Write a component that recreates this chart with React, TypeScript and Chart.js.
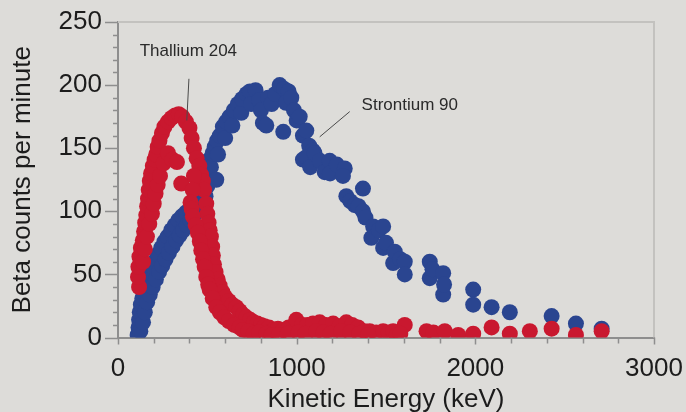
import React, { useEffect, useRef } from 'react';
import { Chart, registerables } from 'chart.js';

Chart.register(...registerables);

// ---- data (keV, beta counts per minute) ----
const thalliumPoints: [number, number][] = [
  [118, 40], [112, 48], [114, 56], [120, 64], [128, 71], [139, 77], [146, 84], [152, 91], [158, 97],
  [163, 104], [168, 110], [172, 117], [178, 124], [185, 130], [195, 136], [205, 141], [214, 145],
  [222, 151], [232, 156], [246, 162], [260, 167], [280, 171], [300, 174], [320, 176], [340, 177],
  [360, 175], [380, 171], [400, 166], [412, 158], [425, 150], [440, 142], [455, 136], [465, 129],
  [475, 124], [482, 117], [494, 106], [500, 98], [507, 91], [513, 85], [520, 80], [527, 72],
  [531, 65], [537, 58], [546, 52], [558, 46], [569, 41], [585, 36], [600, 32], [620, 29], [640, 26],
  [662, 24], [681, 21], [700, 18], [718, 16], [740, 14], [760, 12], [780, 11], [800, 10], [820, 9],
  [845, 8], [870, 6], [895, 7], [925, 6], [955, 8], [998, 14], [1030, 10], [1060, 10], [1091, 11],
  [1129, 12], [1165, 10], [1204, 11], [1240, 9], [1278, 12], [1310, 10], [1344, 8], [1380, 5],
  [1409, 5], [1445, 4], [1484, 5], [1515, 4], [1540, 5], [1605, 10], [1727, 5], [1765, 4],
  [1829, 5], [1904, 2], [1988, 3], [2091, 8], [2193, 3], [2305, 5], [2427, 7], [2563, 2], [2707, 5],
  [140, 60], [150, 70], [162, 80], [175, 90], [190, 98], [200, 106], [210, 114], [222, 121],
  [235, 128], [255, 138], [280, 146], [305, 141], [330, 139], [354, 122], [425, 128], [418, 117],
  [406, 107], [412, 102], [419, 96], [435, 89], [447, 83], [458, 76], [466, 69],
  [476, 62], [485, 56], [494, 48], [505, 42], [513, 38], [530, 31], [550, 24], [570, 20], [595, 16],
  [620, 13], [650, 10], [680, 8], [699, 6], [730, 5], [760, 3], [790, 4], [830, 3], [860, 2],
  [900, 2], [950, 3], [1010, 4], [1050, 3], [1110, 5], [1150, 4], [1190, 3], [1250, 5], [1300, 4],
  [1350, 3], [1400, 2], [1560, 2], [1580, 3],
];

const strontiumPoints: [number, number][] = [
  [110, 2], [115, 8], [118, 14], [122, 20], [128, 26], [136, 31], [125, 5], [140, 12], [150, 20],
  [146, 36], [158, 41], [170, 46], [182, 51], [163, 28], [178, 34], [194, 40], [195, 56], [210, 61],
  [225, 66], [212, 46], [230, 52], [248, 57], [242, 71], [260, 76], [278, 80], [266, 62], [285, 67],
  [305, 72], [298, 85], [318, 89], [338, 93], [325, 77], [345, 81], [365, 85], [358, 96], [380, 99],
  [402, 101], [385, 89], [405, 93], [425, 97], [428, 104], [450, 107], [445, 100], [470, 109],
  [490, 112], [500, 120], [510, 128], [503, 140], [520, 135], [530, 146], [541, 151], [550, 125],
  [555, 156], [570, 160], [560, 145], [587, 167], [600, 158], [606, 171], [625, 175], [640, 168],
  [648, 180], [671, 185], [690, 178], [695, 189], [720, 193], [738, 195], [745, 185], [770, 196],
  [790, 188], [800, 180], [811, 170], [830, 168], [840, 190], [860, 185], [880, 193], [905, 200],
  [930, 197], [955, 195], [940, 186], [925, 163], [970, 190], [985, 180], [1000, 172], [1017, 175],
  [1035, 160], [1054, 164], [1070, 152], [1091, 148], [1035, 141], [1054, 143], [1100, 146],
  [1076, 135], [1130, 140], [1157, 131], [1185, 140], [1187, 130], [1225, 137], [1269, 134],
  [1259, 128], [1278, 112], [1300, 108], [1325, 105], [1346, 104], [1371, 118], [1371, 100],
  [1385, 95], [1418, 79], [1428, 88], [1460, 85], [1484, 88], [1484, 71], [1500, 75], [1540, 59],
  [1549, 68], [1580, 62], [1605, 60], [1605, 50], [1745, 60], [1745, 47], [1760, 54], [1820, 51],
  [1820, 34], [1825, 42], [1988, 38], [1988, 26], [2091, 24], [2193, 20], [2427, 17], [2563, 11],
  [2707, 7],
];

const seriesNames = ['Thallium 204', 'Strontium 90'];
const xMajorTicks = [0, 1000, 2000, 3000];
const yMajorTicks = [0, 50, 100, 150, 200, 250];

// annotation labels anchored in data space (keV, counts)
const noteTexts = ['Thallium 204', 'Strontium 90'];
const noteAnchors: [number, number][] = [[394, 227], [1633, 184]];
const leaderStarts: [number, number][] = [[397, 205], [1297, 179]];
const leaderEnds: [number, number][] = [[385, 172], [1129, 159]];

const FONT = '"Liberation Sans", Arial, Helvetica, sans-serif';
const RED = '#c9182f';
const BLUE = '#2a4590';
const AXIS = '#8e8e8e';

export default function App() {
  const ref = useRef<HTMLCanvasElement>(null);

  useEffect(() => {
    const canvas = ref.current;
    if (!canvas) return;

    const decor = {
      id: 'decor',
      beforeDatasetsDraw(chart: any) {
        const { ctx, chartArea: a } = chart;
        ctx.save();
        ctx.strokeStyle = '#c3c2bf';
        ctx.lineWidth = 2;
        ctx.beginPath();
        ctx.moveTo(a.left, a.top);
        ctx.lineTo(a.right, a.top);
        ctx.lineTo(a.right, a.bottom);
        ctx.stroke();
        ctx.restore();
      },
      afterDraw(chart: any) {
        const { ctx, chartArea: a } = chart;
        const xs = chart.scales.x;
        const ys = chart.scales.y;
        ctx.save();
        ctx.strokeStyle = AXIS;
        ctx.lineWidth = 1.5;
        ys.ticks.forEach((t: any) => {
          const major = yMajorTicks.includes(t.value);
          const len = major ? 13 : 5;
          const py = Math.round(ys.getPixelForValue(t.value)) + 0.5;
          ctx.beginPath();
          ctx.moveTo(a.left - len, py);
          ctx.lineTo(a.left, py);
          ctx.stroke();
        });
        xs.ticks.forEach((t: any) => {
          const major = xMajorTicks.includes(t.value);
          const len = major ? 7 : 6;
          const px = Math.round(xs.getPixelForValue(t.value)) + 0.5;
          ctx.beginPath();
          ctx.moveTo(px, a.bottom);
          ctx.lineTo(px, a.bottom + len);
          ctx.stroke();
        });
        ctx.restore();
      },
      afterDatasetsDraw(chart: any) {
        const { ctx } = chart;
        const xs = chart.scales.x;
        const ys = chart.scales.y;
        ctx.save();
        ctx.strokeStyle = '#4a4a4a';
        ctx.lineWidth = 1;
        leaderStarts.forEach((s, i) => {
          const e = leaderEnds[i];
          ctx.beginPath();
          ctx.moveTo(xs.getPixelForValue(s[0]), ys.getPixelForValue(s[1]));
          ctx.lineTo(xs.getPixelForValue(e[0]), ys.getPixelForValue(e[1]));
          ctx.stroke();
        });
        ctx.fillStyle = '#2a2a2a';
        ctx.font = `17px ${FONT}`;
        ctx.textAlign = 'center';
        ctx.textBaseline = 'middle';
        noteTexts.forEach((txt, i) => {
          const p = noteAnchors[i];
          ctx.fillText(txt, xs.getPixelForValue(p[0]), ys.getPixelForValue(p[1]));
        });
        ctx.restore();
      },
    };

    const chart = new Chart(canvas, {
      type: 'scatter',
      data: {
        datasets: [
          {
            label: seriesNames[0],
            data: thalliumPoints.map(([x, y]) => ({ x, y })),
            backgroundColor: RED,
            borderWidth: 0,
            pointRadius: 8,
            clip: 0,
          },
          {
            label: seriesNames[1],
            data: strontiumPoints.map(([x, y]) => ({ x, y })),
            backgroundColor: BLUE,
            borderWidth: 0,
            pointRadius: 8,
            clip: 0,
          },
        ],
      },
      options: {
        animation: false,
        responsive: false,
        devicePixelRatio: 1,
        events: [],
        layout: { padding: { left: 0, top: 22, right: 32, bottom: 0 } },
        plugins: {
          legend: { display: false },
          tooltip: { enabled: false },
        },
        scales: {
          x: {
            type: 'linear',
            min: 0,
            max: 3000,
            afterFit: (s: any) => { s.height = 74.5; },
            ticks: {
              stepSize: 200,
              autoSkip: false,
              maxRotation: 0,
              padding: 2,
              color: '#1c1c1c',
              font: { family: FONT, size: 26 },
              callback: (v: any) => (xMajorTicks.includes(Number(v)) ? String(v) : ''),
            },
            grid: { drawOnChartArea: false, drawTicks: true, tickLength: 14, tickColor: 'rgba(0,0,0,0)' },
            border: { display: true, color: AXIS, width: 2 },
            title: {
              display: true,
              text: 'Kinetic Energy (keV)',
              color: '#1c1c1c',
              font: { family: FONT, size: 26 },
              padding: { top: 0, bottom: -3 },
            },
          },
          y: {
            type: 'linear',
            min: 0,
            max: 250,
            afterFit: (s: any) => { s.width = 118; },
            ticks: {
              stepSize: 10,
              autoSkip: false,
              padding: 2,
              color: '#1c1c1c',
              font: { family: FONT, size: 26 },
              callback: (v: any) => (yMajorTicks.includes(Number(v)) ? String(v) : ''),
            },
            grid: { drawOnChartArea: false, drawTicks: true, tickLength: 14, tickColor: 'rgba(0,0,0,0)' },
            border: { display: true, color: AXIS, width: 2 },
            title: {
              display: true,
              text: 'Beta counts per minute',
              color: '#1c1c1c',
              font: { family: FONT, size: 26 },
              padding: { top: 7, bottom: 0 },
            },
          },
        },
      },
      plugins: [decor],
    } as any);

    return () => chart.destroy();
  }, []);

  return (
    <div
      style={{
        position: 'absolute',
        left: 0,
        top: 0,
        width: 686,
        height: 412,
        background: '#dddcd9',
      }}
    >
      <canvas ref={ref} width={686} height={412} style={{ display: 'block' }} />
    </div>
  );
}
